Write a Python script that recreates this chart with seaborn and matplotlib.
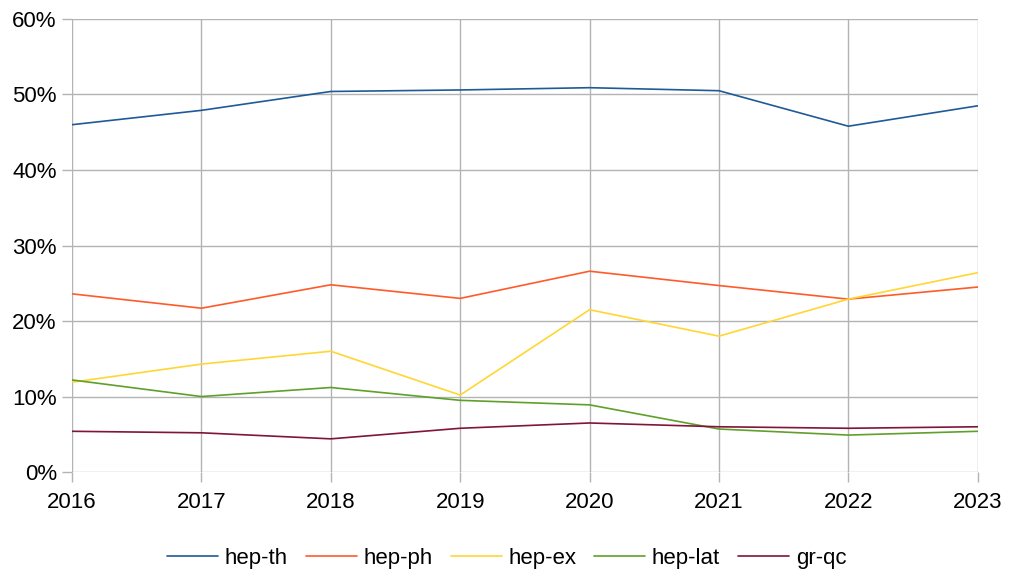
import numpy as np
import pandas as pd
import matplotlib.pyplot as plt
import seaborn as sns
from matplotlib.ticker import PercentFormatter

# ---------------------------------------------------------------------------
# Data (share of papers per category, in %)
# ---------------------------------------------------------------------------
years = [2016, 2017, 2018, 2019, 2020, 2021, 2022, 2023]
categories = ["hep-th", "hep-ph", "hep-ex", "hep-lat", "gr-qc"]

hep_th = [46.0, 47.9, 50.4, 50.6, 50.9, 50.5, 45.8, 48.5]
hep_ph = [23.6, 21.7, 24.8, 23.0, 26.6, 24.7, 22.9, 24.5]
hep_ex = [11.9, 14.3, 16.0, 10.2, 21.5, 18.0, 22.9, 26.4]
hep_lat = [12.2, 10.0, 11.2, 9.5, 8.9, 5.7, 4.9, 5.4]
gr_qc = [5.4, 5.2, 4.4, 5.8, 6.5, 6.0, 5.8, 6.0]

colors = ["#1f5a96", "#ff5a2a", "#ffd633", "#5fa02a", "#80143a"]

df = pd.DataFrame({
    "year": years * len(categories),
    "category": np.repeat(categories, len(years)),
    "share": hep_th + hep_ph + hep_ex + hep_lat + gr_qc,
})

# ---------------------------------------------------------------------------
# Plot
# ---------------------------------------------------------------------------
sns.set_style("white")
plt.rcParams["font.family"] = ["Liberation Sans", "DejaVu Sans"]
plt.rcParams["text.color"] = "black"

fig, ax = plt.subplots(figsize=(10.09, 5.75), dpi=100)
fig.subplots_adjust(left=0.0714, right=0.969, top=0.967, bottom=0.179)

sns.lineplot(data=df, x="year", y="share", hue="category",
             hue_order=categories, palette=colors, linewidth=1.2, ax=ax)

ax.set_xlim(2016, 2023)
ax.set_ylim(0, 60)
ax.set_xticks(years)
ax.set_yticks(range(0, 61, 10))
ax.yaxis.set_major_formatter(PercentFormatter(decimals=0))
ax.grid(True, color="#b3b3b3", linewidth=1)
ax.set_axisbelow(True)
for s in ax.spines.values():
    s.set_visible(False)
ax.tick_params(axis="both", left=True, bottom=True, length=7, width=1,
               color="#b3b3b3", labelcolor="#000000", labelsize=16)
ax.tick_params(axis="y", pad=4)
ax.tick_params(axis="x", pad=7)
ax.set_xlabel("")
ax.set_ylabel("")

leg = ax.legend(loc="center", bbox_to_anchor=(0.48, -0.19), ncol=5,
                frameon=False, fontsize=16, handlelength=2.3, columnspacing=0.8,
                handletextpad=0.3)
for t in leg.get_texts():
    t.set_color("black")

fig.savefig("out.png", dpi=100)
